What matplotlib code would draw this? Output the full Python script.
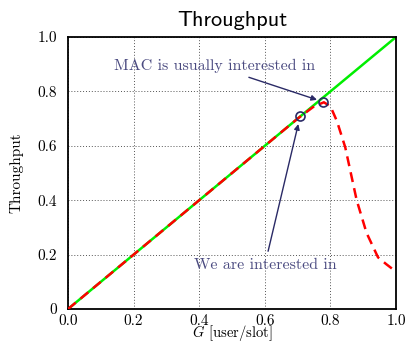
import numpy as np
import matplotlib
matplotlib.use("Agg")
import matplotlib.pyplot as plt

plt.rcParams['font.family'] = 'serif'
plt.rcParams['font.serif'] = ['cmr10']
plt.rcParams['mathtext.fontset'] = 'cm'
plt.rcParams['axes.formatter.use_mathtext'] = True

# ideal throughput S = G
G_ideal = [0.0, 1.0]
S_ideal = [0.0, 1.0]

# simulated throughput
G_sim = [0.0, 0.70, 0.75, 0.78, 0.80, 0.82, 0.845, 0.88, 0.91, 0.945, 0.97, 1.0]
S_sim = [0.0, 0.70, 0.745, 0.76, 0.745, 0.69, 0.595, 0.40, 0.28, 0.19, 0.165, 0.137]

# operating points
pt_ours = (0.707, 0.71)
pt_mac = (0.777, 0.761)

xticks = [0.0, 0.2, 0.4, 0.6, 0.8, 1.0]
xlabels = ['0.0', '0.2', '0.4', '0.6', '0.8', '1.0']
yticks = [0.0, 0.2, 0.4, 0.6, 0.8, 1.0]
ylabels = ['0', '0.2', '0.4', '0.6', '0.8', '1.0']

fig = plt.figure(figsize=(4.07, 3.43), dpi=100)
ax = fig.add_axes([0.1671, 0.0991, 0.806, 0.793])

ax.plot(G_ideal, S_ideal, color='#00ee00', lw=1.8, zorder=2)
ax.plot(G_sim, S_sim, color='red', lw=1.8, ls=(0, (4, 2.5)), zorder=3)

navy = '#2a2a66'
txt = '#4a4a80'
for p in (pt_ours, pt_mac):
    ax.plot(p[0], p[1], 'o', ms=6.5, mfc='none', mec=navy, mew=1.2, zorder=4)

ax.annotate('MAC is usually interested in', xy=(pt_mac[0] - 0.01, pt_mac[1] + 0.005),
            xytext=(0.448, 0.893), textcoords='data', ha='center', va='center',
            fontsize=11.5, color=txt,
            arrowprops=dict(arrowstyle='-|>', color=navy, lw=1.0, shrinkA=3, shrinkB=2,
                            mutation_scale=8))
ax.annotate('We are interested in', xy=(pt_ours[0] - 0.003, pt_ours[1] - 0.02),
            xytext=(0.60, 0.162), textcoords='data', ha='center', va='center',
            fontsize=11.5, color=txt,
            arrowprops=dict(arrowstyle='-|>', color=navy, lw=1.0, shrinkA=3, shrinkB=2,
                            mutation_scale=8))

ax.set_xlim(0, 1)
ax.set_ylim(0, 1)
ax.set_xticks(xticks)
ax.set_xticklabels(xlabels)
ax.set_yticks(yticks)
ax.set_yticklabels(ylabels)
ax.tick_params(length=0, labelsize=11)
ax.tick_params(axis='y', pad=8)
ax.tick_params(axis='x', pad=4)
ax.grid(True, ls=(0, (1, 2)), color='#555555', lw=0.7)
for s in ax.spines.values():
    s.set_linewidth(1.3)

ax.set_title('Throughput', fontfamily='cmss10', fontsize=16, pad=8)
ax.set_xlabel(r'$G$ [user/slot]', fontsize=10.5, labelpad=-3.5)
ax.set_ylabel('Throughput', fontsize=11, labelpad=10)

plt.savefig('out.png', dpi=100)
